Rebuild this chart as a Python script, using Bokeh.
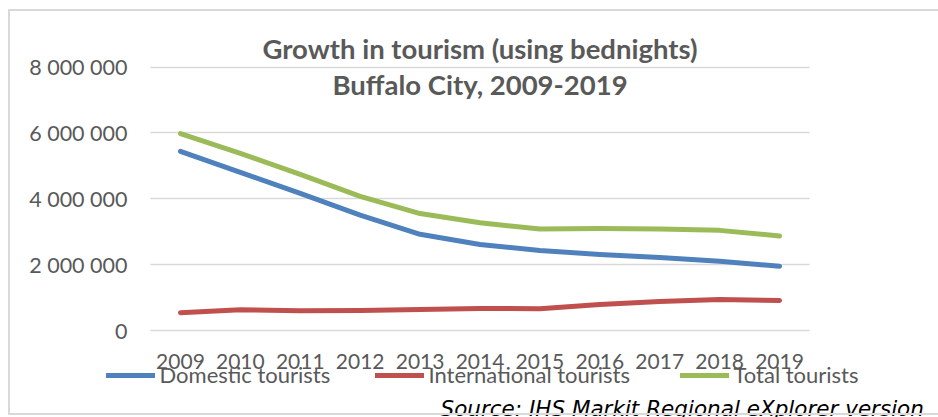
from bokeh.plotting import figure
from bokeh.models import (FactorRange, Range1d, FixedTicker, CustomJSTickFormatter,
                          Legend, LegendItem, Label, InlineStyleSheet)
from bokeh.embed import file_html
from bokeh.resources import INLINE

years = ["2009", "2010", "2011", "2012", "2013", "2014", "2015", "2016", "2017", "2018", "2019"]
domestic = [5440000, 4800000, 4160000, 3500000, 2920000, 2610000, 2430000, 2310000, 2220000, 2100000, 1950000]
international = [540000, 630000, 600000, 610000, 640000, 670000, 660000, 790000, 880000, 940000, 910000]
total = [5980000, 5380000, 4740000, 4070000, 3550000, 3270000, 3080000, 3100000, 3080000, 3040000, 2870000]
y_ticks = [0, 2000000, 4000000, 6000000, 8000000]
series_names = ["Domestic tourists", "International tourists", "Total tourists"]
title_lines = ["Growth in tourism (using bednights)", "Buffalo City, 2009-2019"]
source_text = "Source: IHS Markit Regional eXplorer version"

TXT = "#595959"
colors = ["#4F81BD", "#C0504D", "#9BBB59"]

W, H = 938, 417
FRAME_LEFT = 21            # frame spans the whole canvas except a small left strip
PX_PER_M = 263.5 / 8.0     # pixels per million on the value axis
ZERO_Y = 330               # canvas y of the zero line
n = len(years)
pad_cats = (150 - FRAME_LEFT) / (659.0 / n)

p = figure(width=W, height=H, output_backend="svg", toolbar_location=None,
           x_range=FactorRange(*years, range_padding=2 * pad_cats / n, range_padding_units="percent"),
           y_range=Range1d(-(H - ZERO_Y) / PX_PER_M * 1e6, ZERO_Y / PX_PER_M * 1e6),
           min_border_left=FRAME_LEFT, min_border_right=0, min_border_top=0, min_border_bottom=0)
p.outline_line_color = None
p.background_fill_color = "white"
p.border_fill_color = "white"
p.stylesheets = [InlineStyleSheet(css=(
    ":host { position: relative; }"
    ":host::after { content: ''; position: absolute; left: 8px; top: 9px; right: 0px; bottom: 2px;"
    " border-top: 2px solid #D9D9D9; border-left: 2px solid #D9D9D9; border-bottom: 2px solid #D9D9D9;"
    " pointer-events: none; }"))]

p.xgrid.visible = False
yg = p.ygrid[0]
yg.grid_line_color = "#D9D9D9"
yg.grid_line_width = 1.5
if "cross_bounds" in yg.properties():
    yg.cross_bounds = (0, n)

p.yaxis.ticker = FixedTicker(ticks=y_ticks)
p.yaxis.formatter = CustomJSTickFormatter(code="return Math.round(tick).toString().replace(/\\B(?=(\\d{3})+(?!\\d))/g, ' ');")
p.yaxis.fixed_location = 0
p.xaxis.fixed_location = 0
for ax in (p.xaxis[0], p.yaxis[0]):
    ax.axis_line_color = None
    ax.major_tick_line_color = None
    ax.minor_tick_line_color = None
    ax.major_tick_out = 0
    ax.major_tick_in = 0
    ax.major_label_text_color = TXT
    ax.major_label_text_font = "Lato"
p.yaxis.major_label_text_font_size = "21.5px"
p.xaxis.major_label_text_font_size = "21px"
p.yaxis.major_label_standoff = 23
p.xaxis.major_label_standoff = 23

renderers = []
for vals, c in zip([domestic, international, total], colors):
    r = p.line(years, vals, line_width=5, line_color=c, line_cap="round", line_join="round")
    renderers.append(r)

for name, r, lx in zip(series_names, renderers, [84.5, 353.5, 658.5]):
    lg = Legend(items=[LegendItem(label=name, renderers=[r])], location=(lx, 29),
                orientation="horizontal", padding=0, margin=0, spacing=0,
                glyph_width=49, glyph_height=26, label_height=26, label_standoff=5,
                border_line_color=None, background_fill_alpha=0,
                label_text_font="Lato", label_text_font_size="22px", label_text_color=TXT)
    p.add_layout(lg)

for txt, yv in zip(title_lines, [8.56e6, 7.47e6]):
    p.add_layout(Label(x=n / 2, y=yv, text=txt,
                       text_align="center", text_baseline="alphabetic",
                       text_font="Lato", text_font_style="bold", text_font_size="27.5px",
                       text_color=TXT))

p.add_layout(Label(x=419, y=9, x_units="screen", y_units="screen", text=source_text,
                   text_align="left", text_baseline="alphabetic",
                   text_font="DejaVu Sans", text_font_style="italic", text_font_size="21.5px",
                   text_color="black"))

open("out.html", "w").write(file_html(p, INLINE))
